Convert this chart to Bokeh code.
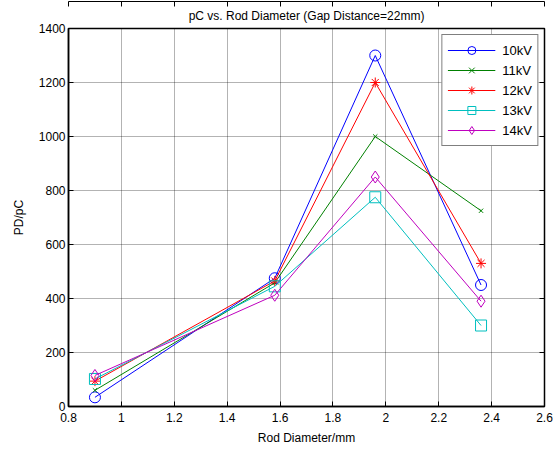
from bokeh.plotting import figure
from bokeh.models import Range1d, LinearAxis, Legend, LegendItem, FixedTicker, Title
from bokeh.embed import file_html
from bokeh.resources import INLINE

x = [0.90, 1.58, 1.96, 2.36]
v10 = [34, 475, 1300, 450]
v11 = [60, 458, 1000, 725]
v12 = [94, 465, 1200, 530]
v13 = [102, 445, 775, 300]
v14 = [115, 412, 850, 390]
labels = ["10kV", "11kV", "12kV", "13kV", "14kV"]
x_ticks = [0.8, 1.0, 1.2, 1.4, 1.6, 1.8, 2.0, 2.2, 2.4, 2.6]
y_ticks = [0, 200, 400, 600, 800, 1000, 1200, 1400]

FONT = "Liberation Sans"

p = figure(width=556, height=451, output_backend="svg", toolbar_location=None,
           x_range=Range1d(0.8, 2.6), y_range=Range1d(0, 1400),
           min_border_left=68, min_border_right=12, min_border_top=28, min_border_bottom=45)
p.title = None
p.add_layout(Title(text="pC vs. Rod Diameter (Gap Distance=22mm)", align="center",
                   text_font=FONT, text_font_size="12px", text_font_style="normal",
                   text_color="black", standoff=11), "above")
p.background_fill_color = "white"
p.border_fill_color = "white"
p.outline_line_color = "black"
p.outline_line_width = 1.5

for ax in p.xaxis:
    ax.ticker = FixedTicker(ticks=x_ticks)
for ax in p.yaxis:
    ax.ticker = FixedTicker(ticks=y_ticks)

p.xaxis.axis_label = "Rod Diameter/mm"
p.yaxis.axis_label = "PD/pC"
for ax in list(p.xaxis) + list(p.yaxis):
    ax.axis_label_text_font = FONT
    ax.axis_label_text_font_size = "12px"
    ax.axis_label_text_font_style = "normal"
    ax.axis_label_text_color = "black"
    ax.major_label_text_font = FONT
    ax.major_label_text_font_size = "12px"
    ax.major_label_text_color = "black"
    ax.axis_line_color = "black"
    ax.axis_line_width = 1.5
    ax.major_tick_in = 5
    ax.major_tick_out = 0
    ax.major_tick_line_color = "black"
    ax.minor_tick_line_color = None
    ax.major_label_standoff = 3
p.xaxis.major_label_standoff = 6
p.xaxis.axis_label_standoff = 6
p.yaxis.axis_label_standoff = 10

# mirrored ticks on top and right (labels not drawn)
top = LinearAxis(ticker=FixedTicker(ticks=x_ticks), major_label_text_color=None,
                 major_label_text_font_size="4px",
                 major_tick_in=5, major_tick_out=0, minor_tick_line_color=None,
                 axis_line_color="black", major_label_standoff=0)
right = LinearAxis(ticker=FixedTicker(ticks=y_ticks), major_label_text_color=None,
                   major_label_text_font_size="4px",
                   major_tick_in=5, major_tick_out=0, minor_tick_line_color=None,
                   axis_line_color="black", major_label_standoff=0)
p.add_layout(top, "above")
p.add_layout(right, "right")

p.xgrid.ticker = FixedTicker(ticks=x_ticks)
p.ygrid.ticker = FixedTicker(ticks=y_ticks)
for g in (p.xgrid, p.ygrid):
    g.grid_line_color = "black"
    g.grid_line_dash = "1 1"
    g.grid_line_alpha = 0.6

series = [v10, v11, v12, v13, v14]
colors = ["#0000ff", "#008000", "#ff0000", "#00bfbf", "#bf00bf"]
markers = ["circle", "x", "asterisk", "square", "diamond"]
sizes = [11, 6, 10, 11, 12]
items = []
for lab, ys, c, m, s in zip(labels, series, colors, markers, sizes):
    r1 = p.line(x, ys, line_color=c, line_width=1)
    r2 = p.scatter(x, ys, marker=m, size=s, line_color=c, fill_color=None, line_width=1)
    items.append(LegendItem(label=lab, renderers=[r1, r2]))

legend = Legend(items=items, location="top_right", margin=6, padding=5, spacing=0,
                label_height=20, glyph_height=20, glyph_width=48, label_standoff=7,
                label_text_font=FONT, label_text_font_size="13px", label_text_color="black",
                border_line_color="black", border_line_width=1.5,
                background_fill_color="white", background_fill_alpha=1.0)
p.add_layout(legend, "center")

open("out.html", "w").write(file_html(p, INLINE))
